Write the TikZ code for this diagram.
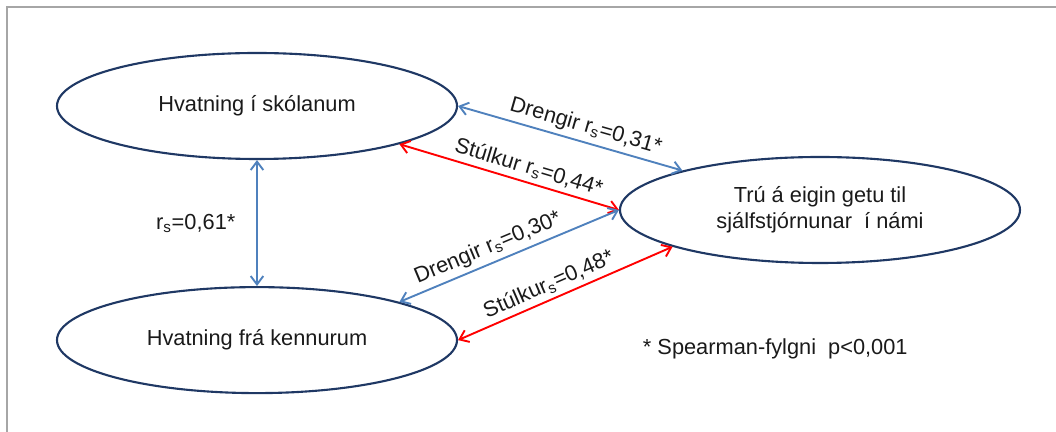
\documentclass[tikz,border=0pt]{standalone}
\usepackage{fontspec}
\setmainfont{Liberation Sans}
\usepackage{tikz}
\usetikzlibrary{positioning}
\usetikzlibrary{arrows.meta}
\usetikzlibrary{shapes.geometric}
\definecolor{navy}{HTML}{1F3864}
\definecolor{boyblue}{HTML}{4F81BD}
\definecolor{girlred}{HTML}{FF0000}
\definecolor{ink}{HTML}{1A1A1A}
\tikzset {
  % ellipse for each factor
  factor/.style = {draw=navy, line width=1.5pt, ellipse, minimum width=10cm,
    minimum height=2.65cm, inner sep=0pt, align=center, text=ink},
  % correlations, boys and girls
  boys/.style = {boyblue, line width=1.35pt, <->},
  girls/.style = {girlred, line width=1.35pt, <->},
  corr/.style = {sloped, above, inner sep=3pt, text=ink},
  frame/.style = {draw=gray!70, line width=1.2pt},
}
\newcommand{\rs}{r\textsubscript{s}}

\begin{document}
\begin{tikzpicture}[font=\fontsize{15.5}{18.5}\selectfont,
    >={Straight Barb[length=6pt,width=9pt]}]
      \useasboundingbox (0,0) rectangle (26.4,10.8);
      \draw[frame] (0.175,0) |- (26.4,10.625);

      \node[factor] (skoli) at (6.425,8.15) {Hvatning í skólanum};
      \node[factor] (kennarar) [below=3.15cm of skoli] {Hvatning frá kennurum};
      \node[factor] (tru) at (20.5,5.55) {Trú á eigin getu til\\sjálfstjórnunar\ \ í námi};

      \draw[boys] (skoli) -- (kennarar) node[midway, left=4mm, text=ink] {\rs=0,61*};

      \draw[boys] (skoli.east) -- (tru.164) node[corr, pos=0.55] {Drengir \rs=0,31*};
      \draw[girls] (skoli.-15) -- (tru.west) node[corr, pos=0.57] {Stúlkur \rs=0,44*};
      \draw[boys] (kennarar.15) -- (tru.west) node[corr, pos=0.43] {Drengir \rs=0,30*};
      \draw[girls] (kennarar.east) -- (tru.194) node[corr, pos=0.45] {Stúlkur\textsubscript{s}=0,48*};

      \node[anchor=west, text=ink] (fylgni) at (15.95,2.075) {* Spearman-fylgni\ \ p<0,001};
    \end{tikzpicture}
\end{document}
